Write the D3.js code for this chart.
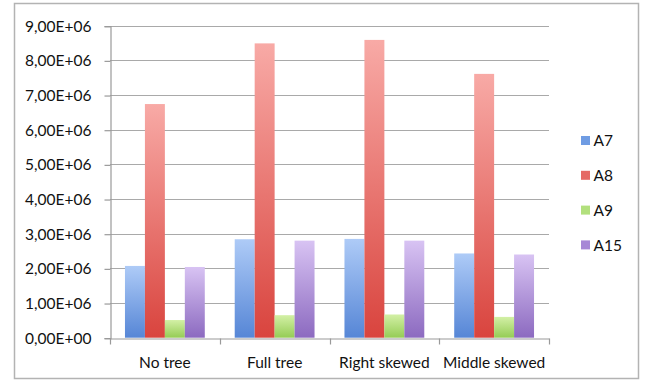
<!DOCTYPE html>
<html>
<head>
<meta charset="utf-8">
<script src="https://cdn.jsdelivr.net/npm/d3@7"></script>
<style>
  html, body { margin: 0; padding: 0; background: #fff; }
  svg { display: block; }
  text { font-family: Lato, "Open Sans", sans-serif; fill: #111; }
</style>
</head>
<body>
<svg id="chart" width="651" height="381"></svg>
<script>
// Categories and series
const categories = ["No tree", "Full tree", "Right skewed", "Middle skewed"];
const seriesNames = ["A7", "A8", "A9", "A15"];
const A7  = [2.07e6, 2.84e6, 2.85e6, 2.43e6];
const A8  = [6.74e6, 8.49e6, 8.59e6, 7.61e6];
const A9  = [0.51e6, 0.65e6, 0.67e6, 0.60e6];
const A15 = [2.04e6, 2.80e6, 2.80e6, 2.40e6];
const yTicks = [0, 1e6, 2e6, 3e6, 4e6, 5e6, 6e6, 7e6, 8e6, 9e6];
const yTickLabels = ["0,00E+00", "1,00E+06", "2,00E+06", "3,00E+06", "4,00E+06",
                     "5,00E+06", "6,00E+06", "7,00E+06", "8,00E+06", "9,00E+06"];

// Gradient stops per series: [top, bottom]
const seriesColors = [
  ["#aecbf7", "#5686d6"],
  ["#f8aaa6", "#d9443e"],
  ["#d3f0a6", "#95cc55"],
  ["#d8c3f3", "#8c6ac0"]
];
const legendColors = ["#6f9ce3", "#e56a65", "#b2e07d", "#a787d6"];

const seriesValues = [A7, A8, A9, A15];
const FONT = 15.5;

const svg = d3.select("#chart");
const plot = { left: 110, right: 549, top: 25.7, bottom: 337.7 };

// Outer frame
svg.append("rect")
  .attr("x", 14.5).attr("y", 3.5)
  .attr("width", 624).attr("height", 375)
  .attr("fill", "#fff")
  .attr("stroke", "#b3b3b3")
  .attr("stroke-width", 1.5);

const x0 = d3.scaleBand()
  .domain(categories)
  .range([plot.left, plot.right])
  .paddingInner(0).paddingOuter(0);

// Four bars per category with a gap of 1.5 bar widths split on both sides
const x1 = d3.scaleBand()
  .domain(seriesNames)
  .range([0, x0.bandwidth()])
  .paddingOuter(0.75)
  .paddingInner(0);

const y = d3.scaleLinear().domain([0, 9e6]).range([plot.bottom, plot.top]);

// Gradients
const defs = svg.append("defs");
seriesNames.forEach((name, i) => {
  const g = defs.append("linearGradient")
    .attr("id", "grad-" + name)
    .attr("x1", 0).attr("y1", 0).attr("x2", 0).attr("y2", 1);
  g.append("stop").attr("offset", "0%").attr("stop-color", seriesColors[i][0]);
  g.append("stop").attr("offset", "100%").attr("stop-color", seriesColors[i][1]);
});

// Gridlines
svg.append("g")
  .selectAll("line")
  .data(yTicks.slice(1))
  .join("line")
  .attr("x1", plot.left).attr("x2", plot.right)
  .attr("y1", d => Math.round(y(d)) + 0.5)
  .attr("y2", d => Math.round(y(d)) + 0.5)
  .attr("stroke", "#a9a9a9")
  .attr("stroke-width", 1.2);

// Y axis
const yAxis = d3.axisLeft(y)
  .tickValues(yTicks)
  .tickFormat((d, i) => yTickLabels[i])
  .tickSize(6)
  .tickPadding(13);
const gy = svg.append("g")
  .attr("transform", `translate(${plot.left + 0.5},0.5)`)
  .call(yAxis);
gy.select(".domain").attr("stroke", "#9a9a9a").attr("stroke-width", 1.2);
gy.selectAll(".tick line").attr("stroke", "#9a9a9a").attr("stroke-width", 1.2);
gy.selectAll(".tick text")
  .attr("font-size", FONT)
  .attr("font-family", "Lato, 'Open Sans', sans-serif")
  .attr("fill", "#111");

// Bars
const groups = svg.append("g")
  .selectAll("g")
  .data(categories)
  .join("g")
  .attr("transform", d => `translate(${x0(d)},0)`);

groups.selectAll("rect")
  .data((c, ci) => seriesNames.map((s, si) => ({ s, v: seriesValues[si][ci] })))
  .join("rect")
  .attr("x", d => x1(d.s))
  .attr("width", x1.bandwidth())
  .attr("y", d => y(d.v))
  .attr("height", d => y(0) - y(d.v))
  .attr("fill", d => `url(#grad-${d.s})`);

// X axis
const xAxis = d3.axisBottom(x0).tickSize(0).tickPadding(18);
const gx = svg.append("g")
  .attr("transform", `translate(0,${Math.round(plot.bottom) + 0.5})`)
  .call(xAxis);
gx.select(".domain").attr("stroke", "#9a9a9a").attr("stroke-width", 1.2);
gx.selectAll(".tick text")
  .attr("font-size", FONT)
  .attr("font-family", "Lato, 'Open Sans', sans-serif")
  .attr("fill", "#111");

// Category boundary ticks
gx.append("g")
  .selectAll("line")
  .data(categories.map(c => x0(c)).concat([x0(categories[categories.length - 1]) + x0.bandwidth()]))
  .join("line")
  .attr("x1", d => Math.round(d) + 0.5).attr("x2", d => Math.round(d) + 0.5)
  .attr("y1", 0).attr("y2", 6)
  .attr("stroke", "#9a9a9a").attr("stroke-width", 1.2);

// Legend
const legend = svg.append("g")
  .selectAll("g")
  .data(seriesNames)
  .join("g")
  .attr("transform", (d, i) => `translate(581,${141 + i * 34.8})`);
legend.append("rect")
  .attr("x", 0).attr("y", -5)
  .attr("width", 9).attr("height", 9)
  .attr("fill", (d, i) => legendColors[i]);
legend.append("text")
  .attr("x", 12.5).attr("y", 0)
  .attr("dy", "0.35em")
  .attr("font-size", FONT)
  .text(d => d);
</script>
</body>
</html>
